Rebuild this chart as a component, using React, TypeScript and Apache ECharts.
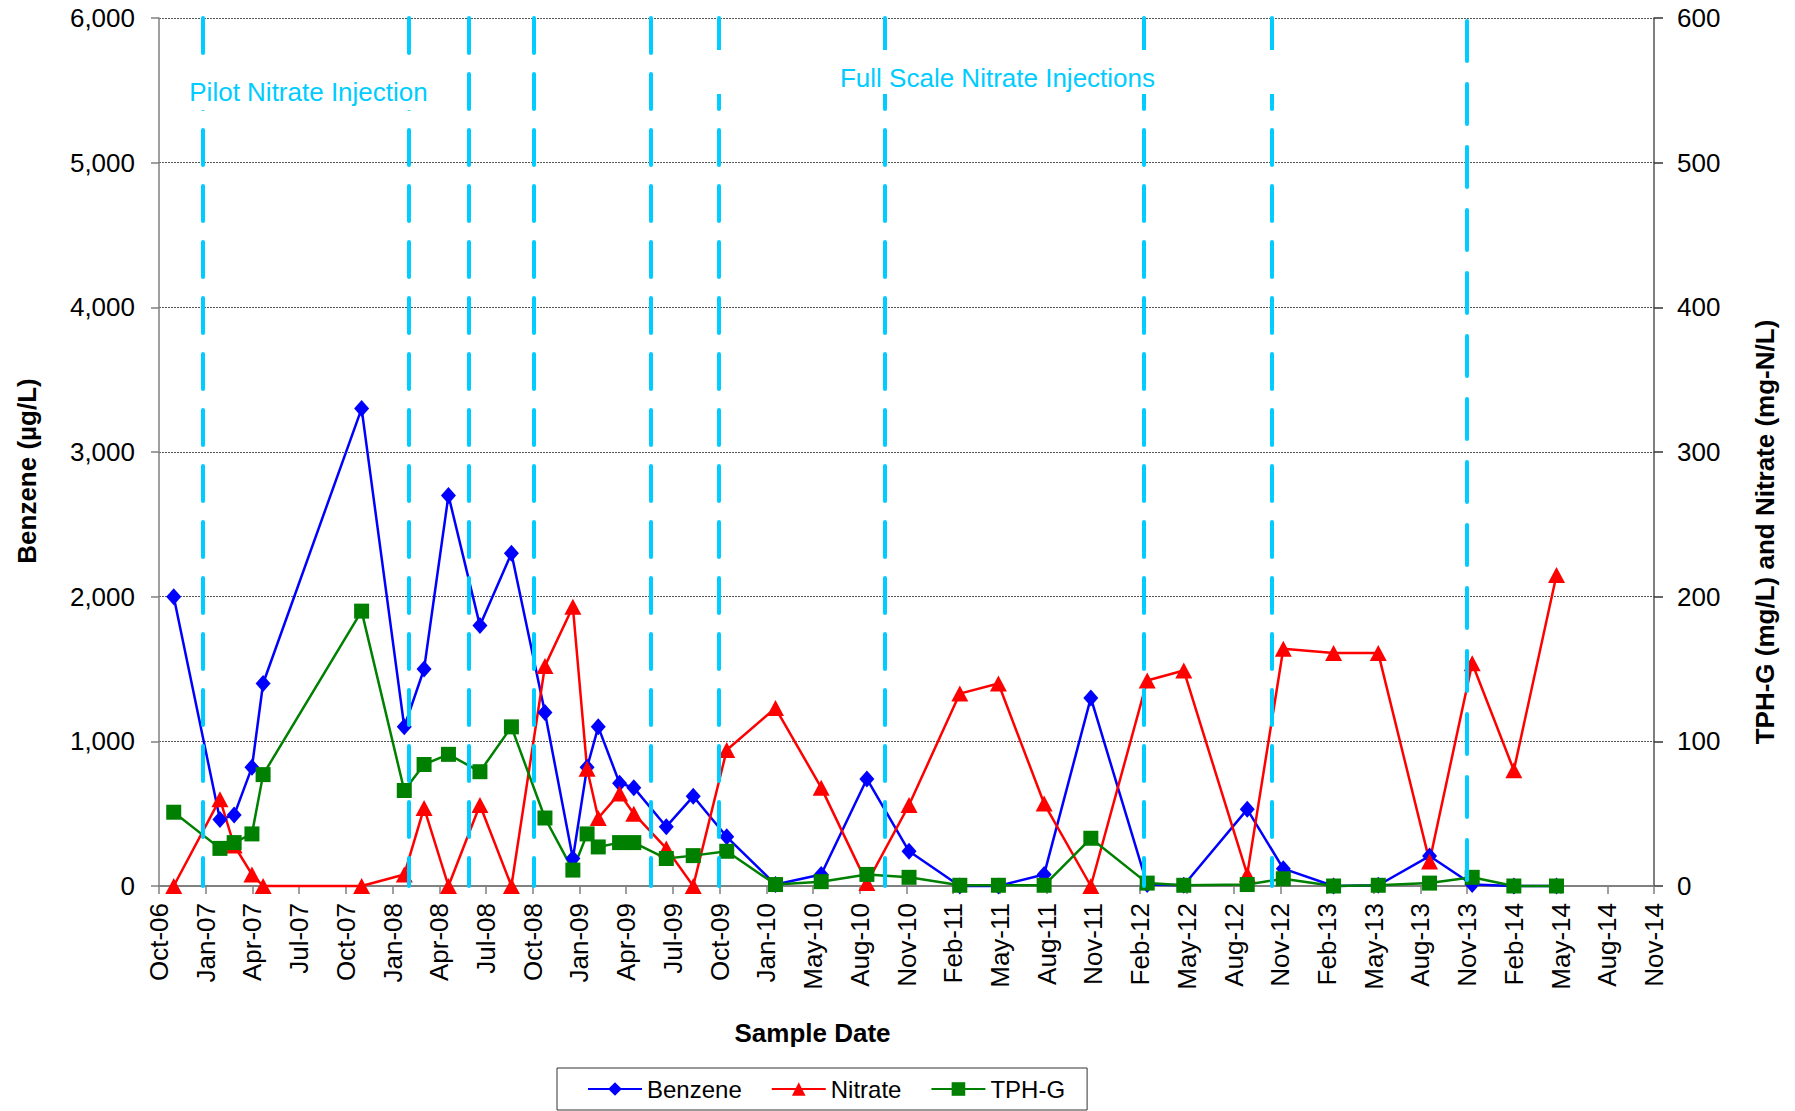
import React, { useEffect, useRef } from "react";
import * as echarts from "echarts";

// Date axis: day offsets from the axis origin, one labelled tick every 92 days
const AXIS_START = "2006-10-22";
const TICK_DAYS = 92;
const TICK_COUNT = 32;
const MONTHS = ["Jan", "Feb", "Mar", "Apr", "May", "Jun", "Jul", "Aug", "Sep", "Oct", "Nov", "Dec"];

const BENZENE_MAX = 6000;
const BENZENE_STEP = 1000;
const RIGHT_MAX = 600;
const RIGHT_STEP = 100;

// Monitoring events
const sampleDates = [
  "2006-11-20", "2007-02-19", "2007-03-19", "2007-04-23", "2007-05-15", "2007-11-25",
  "2008-02-17", "2008-03-27", "2008-05-14", "2008-07-15", "2008-09-15", "2008-11-20",
  "2009-01-14", "2009-02-11", "2009-03-05", "2009-04-16", "2009-05-14", "2009-07-17",
  "2009-09-08", "2009-11-13", "2010-02-17", "2010-05-18", "2010-08-16", "2010-11-07",
  "2011-02-15", "2011-05-02", "2011-07-31", "2011-10-31", "2012-02-19", "2012-05-01",
  "2012-09-03", "2012-11-13", "2013-02-20", "2013-05-19", "2013-08-28", "2013-11-20",
  "2014-02-10", "2014-05-05",
];

// Benzene (µg/L)
const benzene = [
  2000, 460, 490, 820, 1400, 3300,
  1100, 1500, 2700, 1800, 2300, 1200,
  190, 820, 1100, 710, 680, 410,
  620, 340, 10, 80, 740, 240,
  0, 0, 80, 1300, 10, 5,
  530, 120, 0, 5, 207, 10,
  0, 0,
];

// Nitrate (mg-N/L)
const nitrate = [
  0, 60, 28, 8, 0, 0,
  8, 54, 0, 56, 0, 152,
  193, 81, 47, 64, 50, 26,
  0, 94, 123, 68, 2, 56,
  133, 140, 57, 0, 142, 149,
  8, 164, 161, 161, 17, 154,
  80, 215,
];

// TPH-G (mg/L)
const tphG = [
  51, 26, 30, 36, 77, 190,
  66, 84, 91, 79, 110, 47,
  11, 36, 27, 30, 30, 19,
  21, 24, 1, 3, 8, 6,
  0.5, 0.5, 0.5, 33, 2, 0.5,
  1, 5, 0, 0.5, 2, 6,
  0, 0,
];

// Nitrate injection events
const injectionDates = [
  "2007-01-17", "2008-02-25", "2008-06-23", "2008-10-29", "2009-06-17",
  "2009-10-28", "2010-09-21", "2012-02-12", "2012-10-22", "2013-11-10",
];

const DAY_MS = 86400000;
const originMs = Date.parse(AXIS_START + "T00:00:00Z");
const dayOffset = (d: string) => (Date.parse(d + "T00:00:00Z") - originMs) / DAY_MS;
const tickLabel = (v: number) => {
  const dt = new Date(originMs + Math.round(v) * DAY_MS);
  const yy = String(dt.getUTCFullYear() % 100).padStart(2, "0");
  return `${MONTHS[dt.getUTCMonth()]}-${yy}`;
};

const FONT = "'Liberation Sans', Arial, Helvetica, sans-serif";
const CYAN = "#00CCFF";

export default function App() {
  const ref = useRef<HTMLDivElement>(null);

  useEffect(() => {
    if (!ref.current) return;
    const chart = echarts.init(ref.current, null, { renderer: "svg" });

    const toPoints = (vals: number[]) => sampleDates.map((d, i) => [dayOffset(d), vals[i]]);

    const injectionLines = injectionDates.map((d, i) => {
      const x = dayOffset(d);
      const last = i === injectionDates.length - 1;
      return [
        {
          coord: [x, BENZENE_MAX],
          lineStyle: last
            ? { color: CYAN, width: 4, type: [40, 23], cap: "round", dashOffset: -3 }
            : undefined,
        },
        { coord: [x, 0] },
      ];
    });

    const centered = {
      align: "center",
      verticalAlign: "middle",
      textAlign: "center",
      textVerticalAlign: "middle",
    };

    const option: any = {
      animation: false,
      backgroundColor: "#ffffff",
      textStyle: { fontFamily: FONT },
      grid: { left: 159, right: 141, top: 18, bottom: 225, containLabel: false },
      legend: {
        data: ["Benzene", "Nitrate", "TPH-G"],
        left: 557,
        top: 1068,
        orient: "horizontal",
        padding: [9, 22, 9, 30],
        itemGap: 29,
        itemWidth: 54,
        itemHeight: 17,
        borderColor: "#333",
        borderWidth: 1,
        backgroundColor: "#fff",
        selectedMode: false,
        textStyle: { fontSize: 24, color: "#000", fontFamily: FONT },
      },
      xAxis: {
        type: "value",
        min: 0,
        max: TICK_DAYS * TICK_COUNT,
        interval: TICK_DAYS,
        axisLine: { show: true, onZero: false, lineStyle: { color: "#808080", width: 2 } },
        axisTick: { show: true, length: 8, lineStyle: { color: "#808080", width: 1.5 } },
        splitLine: { show: false },
        axisLabel: {
          rotate: 90,
          margin: 17,
          fontSize: 26,
          color: "#000",
          fontFamily: FONT,
          formatter: (v: number) => tickLabel(v),
        },
      },
      yAxis: [
        {
          type: "value",
          min: 0,
          max: BENZENE_MAX,
          interval: BENZENE_STEP,
          position: "left",
          axisLine: { show: true, lineStyle: { color: "#808080", width: 1.5 } },
          axisTick: { show: true, length: 8, lineStyle: { color: "#808080", width: 1.5 } },
          splitLine: { show: true, lineStyle: { color: "#555", width: 1, type: [2, 1] } },
          axisLabel: {
            margin: 24,
            fontSize: 26,
            color: "#000",
            fontFamily: FONT,
            formatter: (v: number) => v.toLocaleString("en-US"),
          },
        },
        {
          type: "value",
          min: 0,
          max: RIGHT_MAX,
          interval: RIGHT_STEP,
          position: "right",
          axisLine: { show: true, lineStyle: { color: "#555", width: 1.5 } },
          axisTick: { show: true, length: 9, lineStyle: { color: "#333", width: 1.5 } },
          splitLine: { show: false },
          axisLabel: { margin: 23, fontSize: 26, color: "#000", fontFamily: FONT },
        },
      ],
      series: [
        {
          name: "Benzene",
          type: "line",
          yAxisIndex: 0,
          data: toPoints(benzene),
          symbol: "diamond",
          symbolSize: [15, 17],
          showAllSymbol: true,
          clip: false,
          color: "#0000FF",
          lineStyle: { color: "#0000FF", width: 2.5 },
          itemStyle: { color: "#0000FF" },
        },
        {
          name: "Nitrate",
          type: "line",
          yAxisIndex: 1,
          data: toPoints(nitrate),
          symbol: "triangle",
          symbolSize: [17, 16],
          showAllSymbol: true,
          clip: false,
          color: "#FF0000",
          lineStyle: { color: "#FF0000", width: 2.5 },
          itemStyle: { color: "#FF0000" },
        },
        {
          name: "TPH-G",
          type: "line",
          yAxisIndex: 1,
          data: toPoints(tphG),
          symbol: "rect",
          symbolSize: 15,
          showAllSymbol: true,
          clip: false,
          color: "#008000",
          lineStyle: { color: "#008000", width: 2.5 },
          itemStyle: { color: "#008000" },
        },
        {
          name: "Injection",
          type: "line",
          yAxisIndex: 0,
          data: [],
          z: 5,
          silent: true,
          markLine: {
            silent: true,
            symbol: ["none", "none"],
            label: { show: false },
            emphasis: { disabled: true },
            lineStyle: { color: CYAN, width: 4, type: [35, 21], cap: "round" },
            data: injectionLines,
          },
        },
      ],
      graphic: [
        {
          type: "rect",
          z: 100,
          shape: { x: 181, y: 70, width: 254, height: 40 },
          style: { fill: "#fff" },
        },
        {
          type: "text",
          z: 101,
          x: 308.5,
          y: 92.3,
          style: { text: "Pilot Nitrate Injection", font: `26px ${FONT}`, fill: CYAN, ...centered },
        },
        {
          type: "rect",
          z: 100,
          shape: { x: 698, y: 50, width: 598, height: 44 },
          style: { fill: "#fff" },
        },
        {
          type: "text",
          z: 101,
          x: 997.5,
          y: 77.6,
          style: { text: "Full Scale Nitrate Injections", font: `26px ${FONT}`, fill: CYAN, ...centered },
        },
        {
          type: "text",
          z: 101,
          x: 812.5,
          y: 1033,
          style: { text: "Sample Date", font: `bold 26px ${FONT}`, fill: "#000", ...centered },
        },
        {
          type: "text",
          z: 101,
          x: 27,
          y: 471,
          rotation: Math.PI / 2,
          style: { text: "Benzene (µg/L)", font: `bold 26px ${FONT}`, fill: "#000", ...centered },
        },
        {
          type: "text",
          z: 101,
          x: 1765,
          y: 532,
          rotation: Math.PI / 2,
          style: {
            text: "TPH-G (mg/L) and Nitrate (mg-N/L)",
            font: `bold 26px ${FONT}`,
            fill: "#000",
            ...centered,
          },
        },
      ],
    };

    chart.setOption(option);
    return () => chart.dispose();
  }, []);

  return (
    <div
      ref={ref}
      style={{ position: "absolute", left: 0, top: 0, width: 1795, height: 1111, background: "#fff" }}
    />
  );
}
